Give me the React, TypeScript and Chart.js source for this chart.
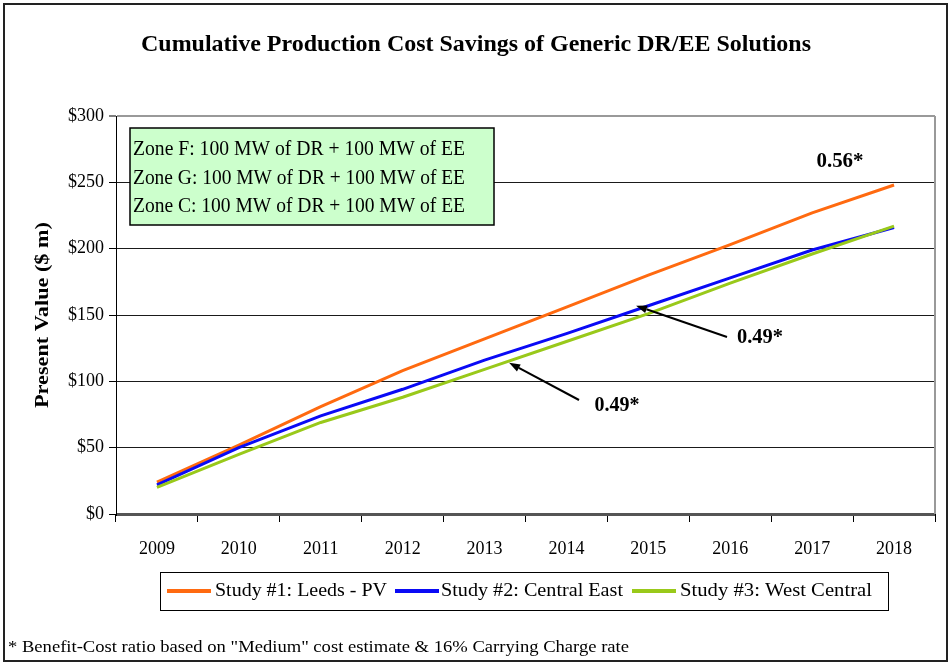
import React, { useEffect, useRef } from "react";
import { Chart, registerables } from "chart.js";

Chart.register(...registerables);

const years = ["2009", "2010", "2011", "2012", "2013", "2014", "2015", "2016", "2017", "2018"];
const study1 = [24, 52, 81, 108, 132, 156, 180, 203, 227, 248];
const study2 = [22, 50, 74, 94, 116, 136, 157, 178, 199, 216];
const study3 = [20, 45, 69, 88, 109, 130, 151, 174, 196, 217];
const seriesLabels = ["Study #1: Leeds - PV", "Study #2: Central East", "Study #3: West Central"];
const seriesColors = ["#FF6A10", "#0A0AF5", "#99C91A"];
const yTicks = [0, 50, 100, 150, 200, 250, 300];

const titleText = "Cumulative Production Cost Savings of Generic DR/EE Solutions";
const yTitle = "Present Value ($ m)";
const boxLines = [
  "Zone F: 100 MW of DR + 100 MW of EE",
  "Zone G: 100 MW of DR + 100 MW of EE",
  "Zone C: 100 MW of DR + 100 MW of EE",
];
const ratioLabels = ["0.56*", "0.49*", "0.49*"];
const footnote = '* Benefit-Cost ratio based on "Medium" cost estimate & 16% Carrying Charge rate';

const SERIF = '"Liberation Serif", "Times New Roman", serif';

function fitText(
  ctx: CanvasRenderingContext2D,
  text: string,
  x: number,
  y: number,
  width: number | null,
  font: string,
  align: CanvasTextAlign
) {
  ctx.save();
  ctx.font = font;
  const w = ctx.measureText(text).width;
  const s = width ? width / w : 1;
  ctx.translate(x, y);
  ctx.scale(s, 1);
  ctx.textAlign = align;
  ctx.textBaseline = "middle";
  ctx.fillStyle = "#000";
  ctx.fillText(text, 0, 0);
  ctx.restore();
}

function arrow(ctx: CanvasRenderingContext2D, x1: number, y1: number, x2: number, y2: number) {
  ctx.save();
  ctx.strokeStyle = "#000";
  ctx.fillStyle = "#000";
  ctx.lineWidth = 2;
  const ang = Math.atan2(y2 - y1, x2 - x1);
  const hl = 11;
  const hw = 4;
  const bx = x2 - hl * Math.cos(ang);
  const by = y2 - hl * Math.sin(ang);
  ctx.beginPath();
  ctx.moveTo(x1, y1);
  ctx.lineTo(bx, by);
  ctx.stroke();
  ctx.beginPath();
  ctx.moveTo(x2, y2);
  ctx.lineTo(bx + hw * Math.sin(ang), by - hw * Math.cos(ang));
  ctx.lineTo(bx - hw * Math.sin(ang), by + hw * Math.cos(ang));
  ctx.closePath();
  ctx.fill();
  ctx.restore();
}

const decorPlugin = {
  id: "decor",
  beforeDraw(chart: any) {
    const ctx = chart.ctx as CanvasRenderingContext2D;
    ctx.save();
    ctx.fillStyle = "#fff";
    ctx.fillRect(0, 0, chart.width, chart.height);
    ctx.restore();
  },
  afterDraw(chart: any) {
    const ctx = chart.ctx as CanvasRenderingContext2D;
    const ca = chart.chartArea;
    const xs = chart.scales.x;
    const ys = chart.scales.y;

    // right border of plot
    ctx.save();
    ctx.strokeStyle = "#999";
    ctx.lineWidth = 2;
    ctx.beginPath();
    ctx.moveTo(ca.right, ca.top);
    ctx.lineTo(ca.right, ca.bottom);
    ctx.stroke();
    ctx.restore();

    // outer frame
    ctx.save();
    ctx.strokeStyle = "#222";
    ctx.lineWidth = 2;
    ctx.strokeRect(4, 4, 943, 657);
    ctx.restore();

    // title
    fitText(ctx, titleText, 476, 45, 670, `bold 24px ${SERIF}`, "center");

    // y title
    ctx.save();
    ctx.translate(43, (ca.top + ca.bottom) / 2);
    ctx.rotate(-Math.PI / 2);
    fitText(ctx, yTitle, 0, 0, 186, `bold 19px ${SERIF}`, "center");
    ctx.restore();

    // info box
    ctx.save();
    ctx.fillStyle = "#CCFFCC";
    ctx.fillRect(130, 128, 364, 97);
    ctx.strokeStyle = "#000";
    ctx.lineWidth = 1.5;
    ctx.strokeRect(130, 128, 364, 97);
    ctx.restore();
    const lineYs = [150, 178.5, 207];
    boxLines.forEach((t, i) => fitText(ctx, t, 133, lineYs[i], 332, `20px ${SERIF}`, "left"));

    // ratio annotations
    fitText(ctx, ratioLabels[0], 840, 162, 47, `bold 20px ${SERIF}`, "center");
    fitText(ctx, ratioLabels[1], 760, 338, 46, `bold 20px ${SERIF}`, "center");
    fitText(ctx, ratioLabels[2], 617, 406, 45, `bold 20px ${SERIF}`, "center");
    arrow(ctx, 727, 337, xs.getPixelForValue(5.85), ys.getPixelForValue(157));
    arrow(ctx, 579, 400, xs.getPixelForValue(4.3), ys.getPixelForValue(114));

    // legend
    ctx.save();
    ctx.strokeStyle = "#000";
    ctx.lineWidth = 1;
    ctx.strokeRect(160.5, 572.5, 728, 38);
    ctx.restore();
    const swatchX = [167, 395, 632];
    const textX = [215, 441, 680];
    const textW = [172, 182, 192];
    seriesLabels.forEach((lab, i) => {
      ctx.save();
      ctx.strokeStyle = seriesColors[i];
      ctx.lineWidth = 4;
      ctx.beginPath();
      ctx.moveTo(swatchX[i], 591);
      ctx.lineTo(swatchX[i] + 44, 591);
      ctx.stroke();
      ctx.restore();
      fitText(ctx, lab, textX[i], 591, textW[i], `19px ${SERIF}`, "left");
    });

    // footnote
    fitText(ctx, footnote, 8, 648, 621, `16px ${SERIF}`, "left");
  },
};

export default function App() {
  const ref = useRef<HTMLCanvasElement | null>(null);
  useEffect(() => {
    if (!ref.current) return;
    const data = [study1, study2, study3];
    const chart = new Chart(ref.current, {
      type: "line",
      data: {
        labels: years,
        datasets: data.map((d, i) => ({
          label: seriesLabels[i],
          data: d,
          borderColor: seriesColors[i],
          backgroundColor: seriesColors[i],
          borderWidth: 3,
          pointRadius: 0,
          tension: 0,
          order: 3 - i,
        })),
      },
      options: {
        responsive: false,
        maintainAspectRatio: false,
        animation: false,
        layout: { padding: { left: 58, right: 16, top: 116, bottom: 101 } },
        plugins: {
          legend: { display: false },
          title: { display: false },
          tooltip: { enabled: false },
        },
        scales: {
          x: {
            type: "category",
            offset: true,
            grid: {
              offset: true,
              drawOnChartArea: false,
              drawTicks: true,
              tickLength: 8,
              color: "#000",
            },
            border: { display: false },
            ticks: {
              color: "#000",
              font: { family: SERIF, size: 18 },
              padding: 16,
              maxRotation: 0,
              autoSkip: false,
            },
            afterFit: (s: any) => {
              s.height = 50;
            },
          },
          y: {
            min: 0,
            max: 300,
            afterBuildTicks: (s: any) => {
              s.ticks = yTicks.map((v) => ({ value: v }));
            },
            grid: {
              color: (c: any) =>
                c.tick && c.tick.value === 0 ? "#555" : c.tick && c.tick.value === 300 ? "#999" : "#1a1a1a",
              lineWidth: (c: any) => (c.tick && c.tick.value === 0 ? 3 : c.tick && c.tick.value === 300 ? 2 : 1),
              tickColor: "#000",
              tickWidth: 1,
              tickLength: 7,
            },
            border: { display: true, color: "#000", width: 1 },
            ticks: {
              color: "#000",
              font: { family: SERIF, size: 18 },
              padding: 5,
              callback: (v: any) => "$" + v,
            },
            afterFit: (s: any) => {
              s.width = 58;
            },
          },
        },
      },
      plugins: [decorPlugin],
    });
    return () => chart.destroy();
  }, []);
  return (
    <div style={{ position: "absolute", left: 0, top: 0, width: 951, height: 665 }}>
      <canvas ref={ref} width={951} height={665} style={{ display: "block" }} />
    </div>
  );
}
